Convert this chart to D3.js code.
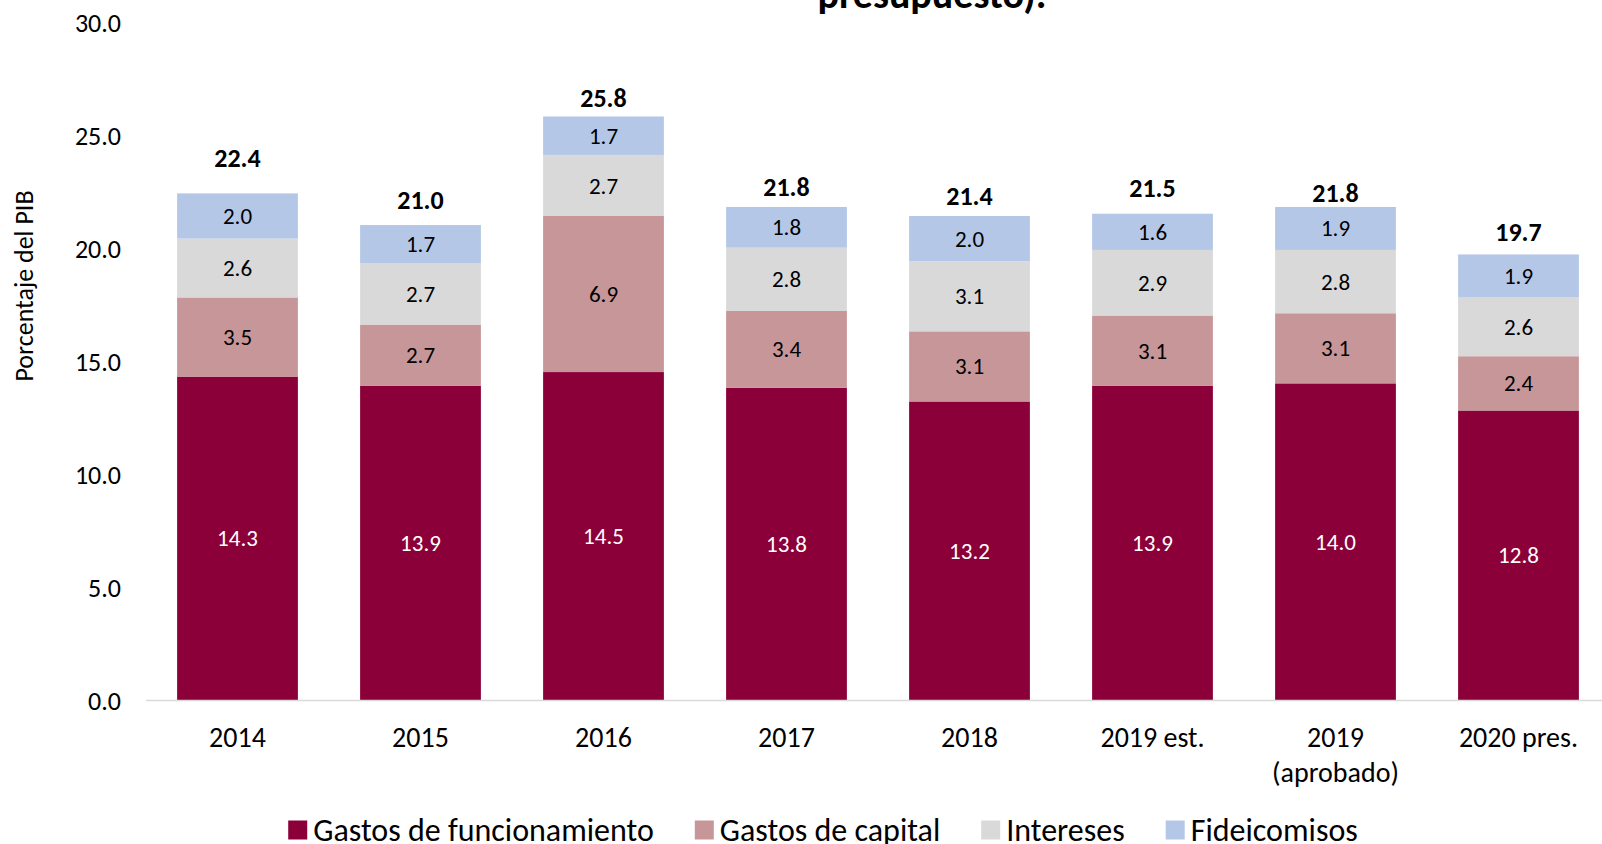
<!DOCTYPE html>
<html>
<head>
<meta charset="utf-8">
<script src="https://cdn.jsdelivr.net/npm/d3@7"></script>
<style>
  body { margin: 0; background: #fff; }
  svg { display: block; font-family: Carlito, Lato, sans-serif; }
</style>
</head>
<body>
<div id="chart"></div>
<script>
// data
const categories = ['2014', '2015', '2016', '2017', '2018', '2019 est.', '2019|(aprobado)', '2020 pres.']
const funcionamiento = [14.3, 13.9, 14.5, 13.8, 13.2, 13.9, 14.0, 12.8]
const capital = [3.5, 2.7, 6.9, 3.4, 3.1, 3.1, 3.1, 2.4]
const intereses = [2.6, 2.7, 2.7, 2.8, 3.1, 2.9, 2.8, 2.6]
const fideicomisos = [2.0, 1.7, 1.7, 1.8, 2.0, 1.6, 1.9, 1.9]
const totals = [22.4, 21.0, 25.8, 21.8, 21.4, 21.5, 21.8, 19.7]
const yTicks = [0, 5, 10, 15, 20, 25, 30]
const seriesNames = ['Gastos de funcionamiento', 'Gastos de capital', 'Intereses', 'Fideicomisos']

const scheme = {
    funcionamiento: '#8B0038',
    capital: '#C79698',
    intereses: '#D9D9D9',
    fideicomisos: '#B4C7E7'
}
const colors = Object.values(scheme)
const labelColors = ['#fff', '#000', '#000', '#000']
// the total labels don't sit at a constant height over the bars in the original
const totalLift = [35, 25, 19, 20, 20, 26, 14, 23]

const width = 1602
const height = 844

const svg = d3.select('#chart')
    .append('svg')
    .attr('width', width)
    .attr('height', height)

// table for the stack
const rows = categories.map((c, i) => ({
    cat: c,
    s0: funcionamiento[i],
    s1: capital[i],
    s2: intereses[i],
    s3: fideicomisos[i]
}))
const stack = d3.stack().keys(['s0', 's1', 's2', 's3'])(rows)

const x = d3.scaleBand()
    .domain(categories)
    .range([146, 1610])
    .paddingInner(0.34)
    .paddingOuter(0.17)

const y = d3.scaleLinear()
    .domain([0, 30])
    .range([700, 21.5])

// title (only the tail of it is inside the frame)
svg.append('text')
    .attr('x', 932)
    .attr('y', 8)
    .attr('text-anchor', 'middle')
    .attr('font-size', 40)
    .attr('font-weight', 'bold')
    .text('presupuesto).')

// y axis labels
svg.append('g')
    .selectAll('text')
    .data(yTicks)
    .enter()
    .append('text')
    .attr('x', 121)
    .attr('y', d => y(d) + 1)
    .attr('dy', '0.35em')
    .attr('text-anchor', 'end')
    .attr('font-size', 26)
    .attr('fill', '#000')
    .text(d => d.toFixed(1))

svg.append('text')
    .attr('transform', `translate(24,286) rotate(-90)`)
    .attr('text-anchor', 'middle')
    .attr('dy', '0.35em')
    .attr('font-size', 26)
    .text('Porcentaje del PIB')

// bars
const layers = svg.append('g')
    .selectAll('g')
    .data(stack)
    .enter()
    .append('g')
    .attr('fill', (d, i) => colors[i])

layers.selectAll('rect')
    .data(d => d)
    .enter()
    .append('rect')
    .attr('x', d => x(d.data.cat))
    .attr('width', x.bandwidth())
    .attr('y', d => y(d[1]))
    .attr('height', d => y(d[0]) - y(d[1]))

// segment value labels
stack.forEach((layer, li) => {
    svg.append('g')
        .selectAll('text')
        .data(layer)
        .enter()
        .append('text')
        .attr('x', d => x(d.data.cat) + x.bandwidth() / 2)
        .attr('y', d => y((d[0] + d[1]) / 2))
        .attr('dy', '0.35em')
        .attr('text-anchor', 'middle')
        .attr('font-size', 23)
        .attr('fill', labelColors[li])
        .text(d => (d[1] - d[0]).toFixed(1))
})

// totals
svg.append('g')
    .selectAll('text')
    .data(totals)
    .enter()
    .append('text')
    .attr('x', (d, i) => x(categories[i]) + x.bandwidth() / 2)
    .attr('y', (d, i) => y(d) - totalLift[i])
    .attr('dy', '0.35em')
    .attr('text-anchor', 'middle')
    .attr('font-size', 26)
    .attr('font-weight', 'bold')
    .text(d => d.toFixed(1))

// x axis line
svg.append('line')
    .attr('x1', 146)
    .attr('x2', width)
    .attr('y1', y(0) + 0.5)
    .attr('y2', y(0) + 0.5)
    .attr('stroke', '#D9D9D9')
    .attr('stroke-width', 1.5)

// category labels
const catLabels = svg.append('g')
    .selectAll('text')
    .data(categories)
    .enter()
    .append('text')
    .attr('x', d => x(d) + x.bandwidth() / 2)
    .attr('y', 747)
    .attr('text-anchor', 'middle')
    .attr('font-size', 28)
catLabels.selectAll('tspan')
    .data(d => d.split('|'))
    .enter()
    .append('tspan')
    .attr('x', function () { return this.parentNode.getAttribute('x') })
    .attr('dy', (d, i) => i === 0 ? 0 : 35)
    .text(d => d)

// legend
const legend = svg.append('g')
let lx = 0
seriesNames.forEach((name, i) => {
    const item = legend.append('g').attr('transform', `translate(${lx},0)`)
    item.append('rect')
        .attr('x', 0)
        .attr('y', -9.5)
        .attr('width', 19)
        .attr('height', 19)
        .attr('fill', colors[i])
    const t = item.append('text')
        .attr('x', 25)
        .attr('y', 0)
        .attr('dy', '0.35em')
        .attr('font-size', 32)
        .text(name)
    lx += 25 + t.node().getComputedTextLength() + 41
})
lx -= 41
legend.attr('transform', `translate(${823 - lx / 2},830)`)
</script>
</body>
</html>
